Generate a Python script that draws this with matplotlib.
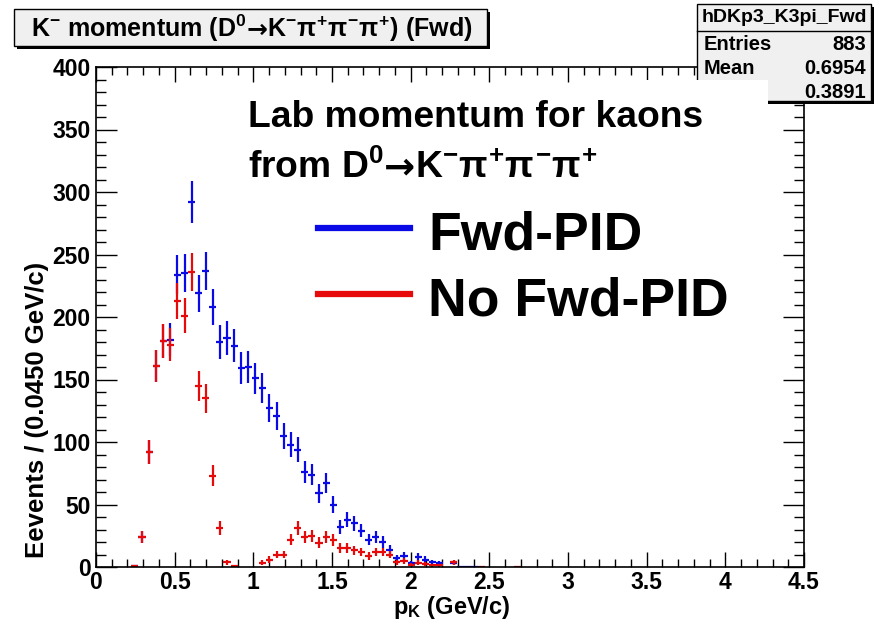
import numpy as np
import matplotlib
matplotlib.use("Agg")
import matplotlib.pyplot as plt
from matplotlib.patches import Rectangle
from matplotlib.lines import Line2D
from matplotlib.ticker import MultipleLocator, FixedLocator
import matplotlib.font_manager as fm

# ---------------- data ----------------
bin_width = 0.045
first_bin = 5
nan = np.nan
blue_counts = [0.5, 24, 92, 161, 181, 182, 234, 235, 292, 219, 237, 208, 180, 183, 177,
               159, 160, 151, 143, 127, 121, 105, 98, 94, 76, 74, 59, 67, 50, 32,
               38, 35, 29, 22, 24, 20, 14, 7, 9, 3, 8, 6, 4, 3, nan,
               3, 0.3, 0.3, 0.3, nan, nan, nan, nan, nan, nan]
red_counts = [0.5, 24, 92, 161, 181, 178, 213, 201, 236, 145, 135, 73, 31, 4, 0.5,
              nan, nan, nan, 3.5, 6, 10, 10, 22, 31, 24, 25, 19.5, 24, 21.5, 15,
              15, 13.5, 12, 9, 12, 12, 10, 4, 5, 2, 3.5, 2.5, 1.5, 1.5, nan,
              4, nan, nan, nan, 0.3, nan, nan, nan, nan, 0.3]
x_ticks = [0, 0.5, 1, 1.5, 2, 2.5, 3, 3.5, 4, 4.5]
x_tick_labels = ["0", "0.5", "1", "1.5", "2", "2.5", "3", "3.5", "4", "4.5"]
y_ticks = [0, 50, 100, 150, 200, 250, 300, 350, 400]
stats_name = "hDKp3_K3pi_Fwd"
stats_rows = [("Entries", "883"), ("Mean", "0.6954"), ("", "0.3891")]

# ---------------- style ----------------
def has_font(name):
    try:
        fm.findfont(fm.FontProperties(family=name), fallback_to_default=False)
        return True
    except Exception:
        return False

main_font = "Liberation Sans" if has_font("Liberation Sans") else "DejaVu Sans"
plt.rcParams['font.family'] = [main_font, 'DejaVu Sans']
plt.rcParams['font.weight'] = 'bold'
plt.rcParams['mathtext.fontset'] = 'custom'
plt.rcParams['mathtext.rm'] = main_font + ':bold'
plt.rcParams['mathtext.it'] = main_font + ':bold'
plt.rcParams['mathtext.bf'] = main_font + ':bold'
plt.rcParams['mathtext.sf'] = main_font + ':bold'

W, H = 877, 624
fig = plt.figure(figsize=(W / 100, H / 100), dpi=100)
renderer = fig.canvas.get_renderer()

def fx(x):
    return x / W

def fy(y):
    return 1 - y / H

ax_l, ax_r, ax_t, ax_b = 96, 804, 67, 567
ax = fig.add_axes([fx(ax_l), fy(ax_b), fx(ax_r - ax_l), (ax_b - ax_t) / H])

idx = np.arange(len(blue_counts)) + first_bin
centers = (idx + 0.5) * bin_width
blue = np.array(blue_counts, dtype=float)
red = np.array(red_counts, dtype=float)

for vals, col in [(blue, '#0a0ae6'), (red, '#e60a0a')]:
    m = ~np.isnan(vals)
    ax.errorbar(centers[m], vals[m], xerr=bin_width / 2, yerr=np.sqrt(vals[m]),
                fmt='none', ecolor=col, elinewidth=1.6, capsize=0)

ax.set_xlim(0, 4.5)
ax.set_ylim(0, 400)
ax.xaxis.set_major_locator(FixedLocator(x_ticks))
ax.set_xticklabels(x_tick_labels)
ax.xaxis.set_minor_locator(MultipleLocator(0.1))
ax.yaxis.set_major_locator(FixedLocator(y_ticks))
ax.yaxis.set_minor_locator(MultipleLocator(10))
ax.tick_params(axis='both', which='both', direction='in', top=True, right=True,
               width=1.0, color='black')
ax.tick_params(axis='x', which='major', length=11, pad=3, labelsize=16.5)
ax.tick_params(axis='x', which='minor', length=5.5)
ax.tick_params(axis='y', which='major', length=15, pad=4, labelsize=16.5)
ax.tick_params(axis='y', which='minor', length=7.5)
for lab in ax.get_xticklabels() + ax.get_yticklabels():
    lab.set_fontweight('bold')
for sp in ax.spines.values():
    sp.set_linewidth(1.2)

# axis titles
fig.text(fx(452), fy(614), r'p$_{\mathrm{K}}$ (GeV/c)', ha='center', va='baseline',
         fontsize=17, fontweight='bold')
fig.text(fx(37), fy(410), 'Eevents / (0.0450 GeV/c)', ha='center', va='center',
         rotation=90, fontsize=18.5, fontweight='bold')


def pieces_text(pieces, x, y_base, size, align='left', zorder=9):
    """Draw text pieces side by side on a common baseline (pixel coords, top-left origin)."""
    arts = []
    cur = 0.0
    for s, fam in pieces:
        t = fig.text(0, fy(y_base), s, ha='left', va='baseline', fontsize=size,
                     fontweight='bold', family=fam, zorder=zorder)
        arts.append(t)
    widths = []
    for t in arts:
        bb = t.get_window_extent(renderer=renderer)
        widths.append(bb.width)
    total = sum(widths)
    start = x if align == 'left' else x - total / 2
    cur = start
    for t, w in zip(arts, widths):
        t.set_x(fx(cur))
        cur += w
    return arts


# title box with shadow
def pave(x0, y0, x1, y1, face='#f0f0f0', shadow=3):
    fig.add_artist(Rectangle((fx(x0 + shadow), fy(y1 + shadow)), fx(x1 - x0), (y1 - y0) / H,
                             transform=fig.transFigure, facecolor='black', edgecolor='none', zorder=5))
    fig.add_artist(Rectangle((fx(x0), fy(y1)), fx(x1 - x0), (y1 - y0) / H,
                             transform=fig.transFigure, facecolor=face, edgecolor='black',
                             linewidth=1.0, zorder=6))

pave(14, 9, 487, 46)
MF = [main_font, 'DejaVu Sans']
pieces_text([(r'K$^{-}$ momentum (D$^{0}$', MF), ('→', ['DejaVu Sans']),
             (r'K$^{-}\pi^{+}\pi^{-}\pi^{+}$) (Fwd)', MF)],
            252, 37, 18, align='center', zorder=7)

# stats box
pave(697, 4, 871, 101)
fig.add_artist(Line2D([fx(697), fx(871)], [fy(31), fy(31)], transform=fig.transFigure,
                      color='black', linewidth=1.0, zorder=7))
fig.text(fx(784), fy(18), stats_name, ha='center', va='center', fontsize=14,
         fontweight='bold', zorder=7)
row_y = [45, 69, 92]
for (lab, val), yy in zip(stats_rows, row_y):
    if lab:
        fig.text(fx(704), fy(yy), lab, ha='left', va='center', fontsize=14.5,
                 fontweight='bold', zorder=7)
    fig.text(fx(866), fy(yy), val, ha='right', va='center', fontsize=14.5,
             fontweight='bold', zorder=7)

# white pave of the annotation covering part of the stats box
fig.add_artist(Rectangle((fx(640), fy(106)), fx(768 - 640), 26 / H,
                         transform=fig.transFigure, facecolor='white', edgecolor='none', zorder=8))

# annotation text
fig.text(fx(248), fy(127), 'Lab momentum for kaons', ha='left', va='baseline',
         fontsize=26.8, fontweight='bold', zorder=9)
pieces_text([(r'from D$^{0}$', MF), ('→', ['DejaVu Sans']),
             (r'K$^{-}\pi^{+}\pi^{-}\pi^{+}$', MF)],
            248, 178, 26.8, align='left', zorder=9)

# legend-like lines and labels
fig.add_artist(Line2D([fx(318), fx(410)], [fy(228), fy(228)], transform=fig.transFigure,
                      color='#0a0ae6', linewidth=4.5, zorder=9))
fig.add_artist(Line2D([fx(318), fx(410)], [fy(294), fy(294)], transform=fig.transFigure,
                      color='#e60a0a', linewidth=4.5, zorder=9))
fig.text(fx(428), fy(250), 'Fwd-PID', ha='left', va='baseline', fontsize=38.5,
         fontweight='bold', zorder=9)
fig.text(fx(428), fy(316), 'No Fwd-PID', ha='left', va='baseline', fontsize=38.5,
         fontweight='bold', zorder=9)

fig.savefig('out.png', dpi=100)
